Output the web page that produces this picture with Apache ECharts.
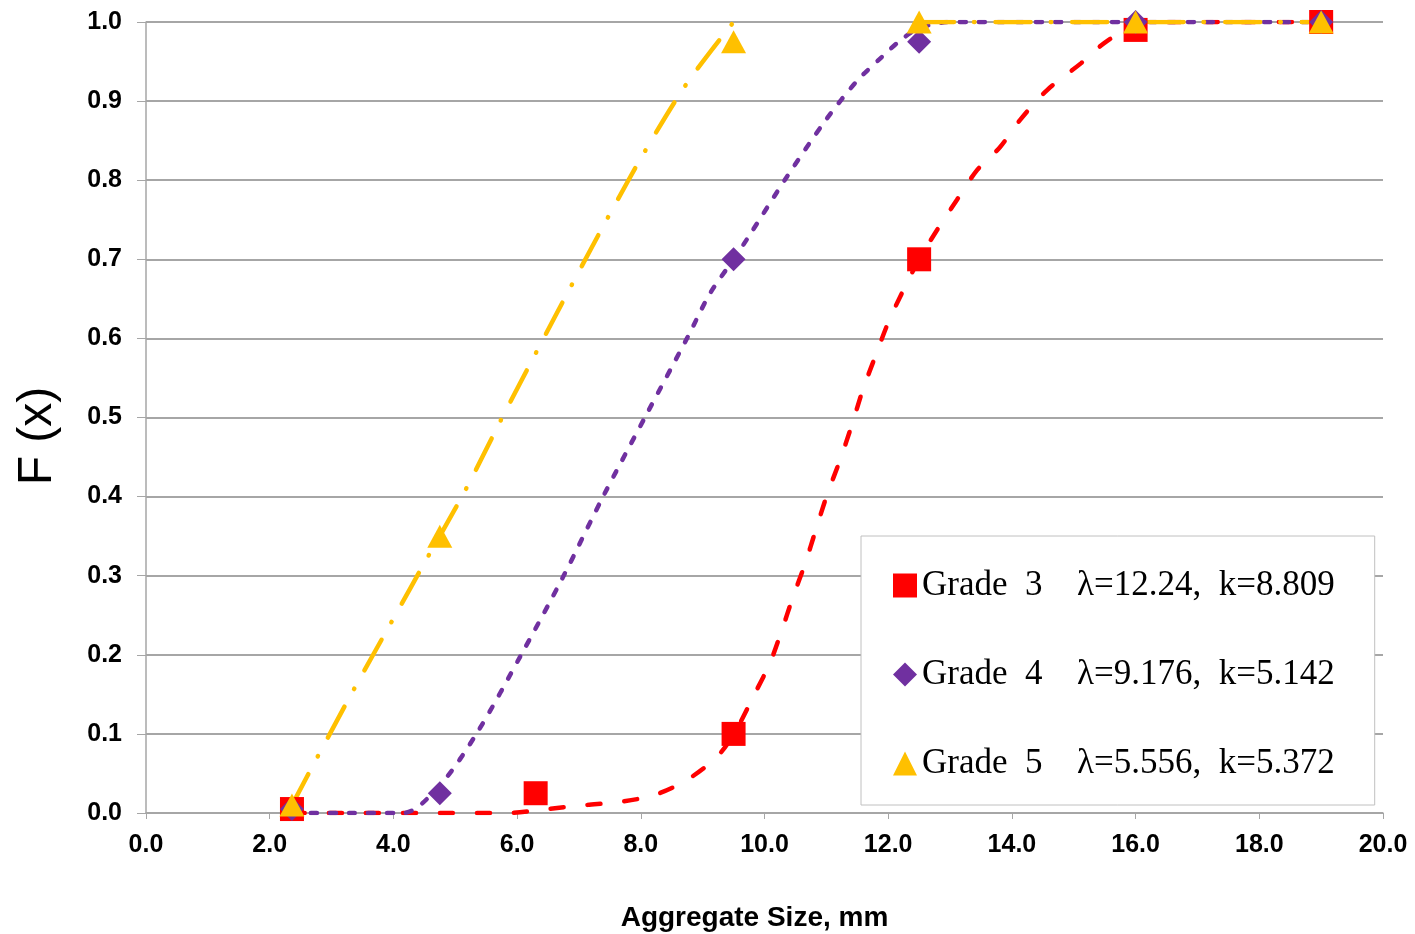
<!DOCTYPE html>
<html>
<head>
<meta charset="utf-8">
<script src="https://cdn.jsdelivr.net/npm/echarts@6/dist/echarts.min.js"></script>
<style>
  html, body { margin: 0; padding: 0; background: #fff; }
  #chart { width: 1415px; height: 934px; }
</style>
</head>
<body>
<div id="chart"></div>
<script>
// measured points (markers)
const sieveX3 = [2.36, 6.3, 9.5, 12.5, 16, 19];
const grade3Y = [0.005, 0.025, 0.1, 0.7, 0.99, 1.0];
const sieveX4 = [2.36, 4.75, 9.5, 12.5, 16, 19];
const grade4Y = [0.005, 0.025, 0.7, 0.975, 1.0, 1.0];
const sieveX5 = [2.36, 4.75, 9.5, 12.5, 16, 19];
const grade5Y = [0.01, 0.35, 0.975, 1.0, 1.0, 1.0];

// fitted curves
const curve3X = [2.36, 3.5, 4.75, 5.84, 6.48, 7.1, 7.66, 8.23, 8.75, 9.23, 9.52, 9.85, 10.09, 10.28, 10.46, 10.66, 10.83, 11.01, 11.22, 11.41, 11.59, 11.79, 12.0, 12.22, 12.5, 12.79, 13.11, 13.44, 13.81, 14.13, 14.57, 15.12, 15.52, 16, 16.5, 19];
const curve3Y = [0, 0, 0, 0, 0.005, 0.01, 0.014, 0.023, 0.042, 0.071, 0.102, 0.152, 0.19, 0.231, 0.273, 0.316, 0.358, 0.402, 0.446, 0.49, 0.535, 0.577, 0.62, 0.657, 0.7, 0.737, 0.775, 0.813, 0.842, 0.876, 0.914, 0.948, 0.975, 0.995, 1.0, 1.0];
const curve4X = [2.36, 3.3, 4.16, 4.75, 5.35, 6.08, 6.74, 7.39, 8.1, 8.76, 9.12, 9.5, 9.73, 10.36, 11.0, 11.49, 11.9, 12.2, 12.5, 13, 16, 19];
const curve4Y = [0, 0, 0, 0.035, 0.101, 0.202, 0.298, 0.4, 0.505, 0.602, 0.657, 0.7, 0.727, 0.804, 0.877, 0.925, 0.956, 0.977, 0.992, 1.0, 1.0, 1.0];
const curve5X = [2.36, 2.78, 3.38, 3.98, 4.58, 4.75, 5.19, 5.76, 6.32, 6.9, 7.49, 8.1, 8.75, 9.5, 11, 12.5, 16, 19];
const curve5Y = [0.01, 0.072, 0.159, 0.243, 0.327, 0.35, 0.412, 0.5, 0.584, 0.67, 0.756, 0.841, 0.923, 1.0, null, 1.0, 1.0, 1.0];

const gradeNames = ['Grade  3', 'Grade  4', 'Grade  5'];
const gradeParams = ['λ=12.24,  k=8.809', 'λ=9.176,  k=5.142', 'λ=5.556,  k=5.372'];

const colors = ['#ff0000', '#7030a0', '#ffc000'];
const pairs = (xs, ys) => xs.map((x, i) => [x, ys[i]]);

const chart = echarts.init(document.getElementById('chart'));

const lineSeries = (data, color, dash) => ({
  type: 'line',
  data: data,
  smooth: 0.3,
  showSymbol: false,
  symbol: 'none',
  connectNulls: false,
  silent: true,
  lineStyle: { color: color, width: 4.5, type: dash, cap: 'round' },
  z: 2
});

const labelFont = { fontFamily: 'Liberation Sans, Arial', fontWeight: 'bold', fontSize: 25, color: '#000' };
const legendFont = { fontFamily: 'Liberation Serif, Times New Roman', fontSize: 35, color: '#000', lineHeight: 36 };

const option = {
  animation: false,
  backgroundColor: '#fff',
  grid: { left: 146, top: 22, width: 1237, height: 791, outerBoundsMode: 'none', containLabel: false },
  xAxis: {
    type: 'value',
    min: 0, max: 20, interval: 2,
    name: 'Aggregate Size, mm',
    nameLocation: 'middle',
    nameGap: 91,
    nameTextStyle: { fontFamily: 'Liberation Sans, Arial', fontWeight: 'bold', fontSize: 28, color: '#000', padding: [0, 20, 0, 0] },
    axisLine: { lineStyle: { color: '#a6a6a6', width: 1.5 } },
    axisTick: { show: true, length: 6, lineStyle: { color: '#a6a6a6' } },
    axisLabel: Object.assign({ margin: 20, formatter: v => v.toFixed(1) }, labelFont),
    splitLine: { show: false }
  },
  yAxis: {
    type: 'value',
    min: 0, max: 1, interval: 0.1,
    axisLine: { show: true, lineStyle: { color: '#a6a6a6', width: 1.5 } },
    axisTick: { show: true, length: 9, lineStyle: { color: '#a6a6a6' } },
    axisLabel: Object.assign({ margin: 24, formatter: v => v.toFixed(1) }, labelFont),
    splitLine: { lineStyle: { color: '#888888', width: 1.5 } }
  },
  legend: {
    orient: 'vertical',
    left: 861,
    top: 536,
    padding: [32, 40, 24, 32],
    backgroundColor: '#fff',
    borderColor: '#c0c0c0',
    borderWidth: 1,
    itemWidth: 24,
    itemHeight: 24,
    itemGap: 54,
    selectedMode: false,
    data: [
      { name: gradeNames[0], icon: 'rect' },
      { name: gradeNames[1], icon: 'diamond' },
      { name: gradeNames[2], icon: 'triangle' }
    ],
    formatter: name => '{g|' + name + '}{p|' + gradeParams[gradeNames.indexOf(name)] + '}',
    textStyle: {
      rich: {
        g: Object.assign({ width: 155 }, legendFont),
        p: Object.assign({}, legendFont)
      }
    }
  },
  graphic: [{
    type: 'text',
    x: 38, y: 436,
    rotation: Math.PI / 2,
    style: {
      text: 'F (x)',
      fontFamily: 'Liberation Sans, Arial',
      fontSize: 48,
      fill: '#000',
      align: 'center',
      verticalAlign: 'middle'
    }
  }],
  series: [
    lineSeries(pairs(curve3X, curve3Y), colors[0], [13, 24]),
    lineSeries(pairs(curve4X, curve4Y), colors[1], [6, 13]),
    {
      name: gradeNames[0], type: 'scatter', symbol: 'rect', symbolSize: 24,
      itemStyle: { color: colors[0], opacity: 1 }, data: pairs(sieveX3, grade3Y), z: 3
    },
    {
      name: gradeNames[1], type: 'scatter', symbol: 'diamond', symbolSize: 24,
      itemStyle: { color: colors[1], opacity: 1 }, data: pairs(sieveX4, grade4Y), z: 3
    },
    lineSeries(pairs(curve5X, curve5Y), colors[2], [35, 20, 0.5, 21]),
    {
      name: gradeNames[2], type: 'scatter', symbol: 'triangle', symbolSize: [25, 23],
      itemStyle: { color: colors[2], opacity: 1 }, data: pairs(sieveX5, grade5Y), z: 4
    }
  ]
};

chart.setOption(option);
</script>
</body>
</html>
